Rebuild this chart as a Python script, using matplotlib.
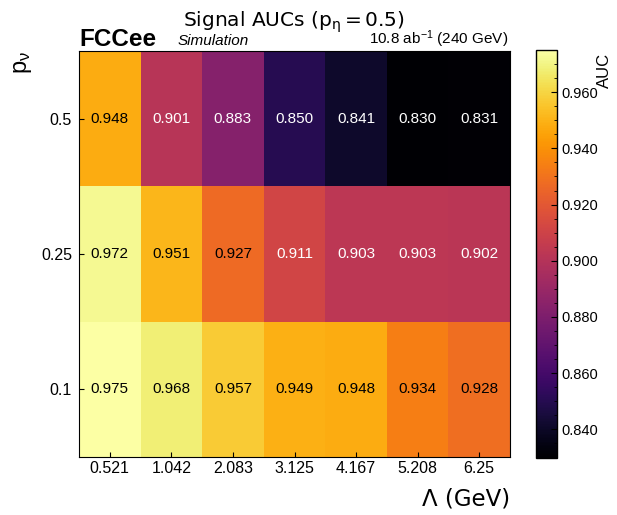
import numpy as np
import matplotlib
matplotlib.use("Agg")
import matplotlib.pyplot as plt
from matplotlib.ticker import MultipleLocator, FixedLocator, FormatStrFormatter

lambdas = ["0.521", "1.042", "2.083", "3.125", "4.167", "5.208", "6.25"]
p_nu = ["0.1", "0.25", "0.5"]
auc_p01 = [0.975, 0.968, 0.957, 0.949, 0.948, 0.934, 0.928]
auc_p025 = [0.972, 0.951, 0.927, 0.911, 0.903, 0.903, 0.902]
auc_p05 = [0.948, 0.901, 0.883, 0.850, 0.841, 0.830, 0.831]
cbar_ticks = [0.84, 0.86, 0.88, 0.90, 0.92, 0.94, 0.96]

data = np.array([auc_p01, auc_p025, auc_p05])

plt.rcParams['mathtext.fontset'] = 'custom'
plt.rcParams['mathtext.rm'] = 'Liberation Sans'
plt.rcParams['mathtext.it'] = 'Liberation Sans:italic'
plt.rcParams['mathtext.bf'] = 'Liberation Sans:bold'
plt.rcParams['font.family'] = ['Liberation Sans', 'DejaVu Sans']

W, H = 617, 515
fig = plt.figure(figsize=(W/100, H/100), dpi=100)
ax = fig.add_axes([79/W, 1-457/H, (510-79)/W, (457-51)/H])
cax = fig.add_axes([536/W, 1-457.5/H, 21/W, (457.5-50)/H])

vmin, vmax = data.min(), data.max()
mesh = ax.pcolormesh(np.arange(len(lambdas)+1)-0.5, np.arange(len(p_nu)+1)-0.5, data,
                     cmap='inferno', vmin=vmin, vmax=vmax)
for i in range(data.shape[0]):
    for j in range(data.shape[1]):
        v = data[i, j]
        ax.text(j, i, f"{v:.3f}", ha='center', va='center', fontsize=11,
                color='white' if v < 0.92 else 'black')

ax.set_xlim(-0.5, len(lambdas)-0.5)
ax.set_ylim(-0.5, len(p_nu)-0.5)
ax.set_xticks(range(len(lambdas)))
ax.set_xticklabels(lambdas)
ax.set_yticks(range(len(p_nu)))
ax.set_yticklabels(p_nu)
ax.tick_params(direction='in', length=3.5, width=0.8, labelsize=11.5)
ax.tick_params(axis='x', pad=3)
ax.tick_params(axis='y', pad=5)

ax.set_xlabel("Λ (GeV)", family='DejaVu Sans', fontsize=16.5, loc='right')
ax.xaxis.label.set_va('baseline')
ax.xaxis.set_label_coords(1.0, -(506-457)/406)
ax.set_ylabel(r"$\mathregular{p_{\nu}}$", fontsize=17, loc='top')
ax.yaxis.set_label_coords((34-79)/431, 1.0)

cb = fig.colorbar(mesh, cax=cax)
cb.set_ticks(FixedLocator(cbar_ticks))
cb.ax.yaxis.set_major_formatter(FormatStrFormatter('%.3f'))
cb.ax.yaxis.set_minor_locator(MultipleLocator(0.005))
cb.ax.tick_params(which='major', direction='in', length=4, width=0.8, labelsize=10.5, pad=3)
cb.ax.tick_params(which='minor', direction='in', length=2, width=0.6)
cb.set_label("AUC", fontsize=12, loc='top')
cb.ax.yaxis.set_label_coords((597-536)/21, 0.993)
cb.outline.set_linewidth(1)

fig.text(294/W, 1-27/H, r"Signal AUCs ($\mathregular{p_{\eta} = 0.5}$)", family='DejaVu Sans',
         fontsize=14.5, ha='center', va='baseline')
fig.text(79/W, 1-46/H, "FCCee", fontsize=17.5, fontweight='bold', ha='left', va='baseline')
fig.text(178/W, 1-45/H, "Simulation", fontsize=11, style='italic', ha='left', va='baseline')
fig.text(508/W, 1-44/H, r"10.8 ab$^{-1}$ (240 GeV)", fontsize=11, ha='right', va='baseline')

fig.savefig("out.png", dpi=100)
